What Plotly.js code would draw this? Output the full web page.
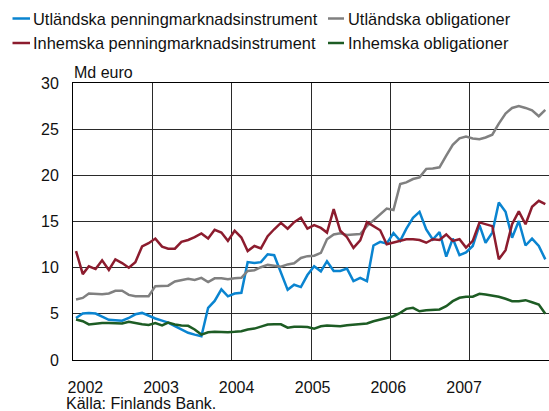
<!DOCTYPE html>
<html>
<head>
<meta charset="utf-8">
<script src="https://cdn.plot.ly/plotly-3.0.1.min.js"></script>
<style>
  html, body { margin: 0; padding: 0; background: #ffffff; }
  #chart { width: 549px; height: 411px; }
</style>
</head>
<body>
<div id="chart"></div>
<script>
// ---- Data (Md euro, monthly 2002-01 .. 2007-12) ----
const years = [2002, 2003, 2004, 2005, 2006, 2007];
const seriesNames = [
  "Utländska penningmarknadsinstrument",
  "Utländska obligationer",
  "Inhemska penningmarknadsinstrument",
  "Inhemska obligationer"
];
const seriesColors = ["#0a84d0", "#808080", "#8c1c2e", "#1d5c24"];

const utlPenning = [
  4.55, 5.03, 5.1, 5.03, 4.7, 4.35, 4.3, 4.25, 4.55, 4.95, 5.1, 4.8,
  4.5, 4.27, 4.05, 3.66, 3.3, 2.95, 2.75, 2.57, 5.65, 6.4, 7.65, 6.9,
  7.2, 7.28, 10.6, 10.5, 10.6, 11.45, 11.35, 9.4, 7.6, 8.15, 7.9, 9.2,
  10.15, 9.6, 10.7, 9.64, 9.64, 9.9, 8.55, 8.9, 8.55, 12.4, 12.8, 12.6,
  13.75, 12.9, 14.2, 15.4, 16.05, 14.15, 13.05, 13.85, 11.2, 13.15, 11.35, 11.65,
  12.35, 14.6, 12.7, 13.8, 17.05, 16.05, 13.25, 15.05, 12.4, 13.15, 12.35, 10.9
];
const utlObl = [
  6.55, 6.72, 7.2, 7.12, 7.12, 7.2, 7.5, 7.5, 7.05, 6.9, 6.9, 6.9,
  8.0, 8.05, 8.05, 8.5, 8.66, 8.8, 8.66, 8.9, 8.45, 8.85, 8.85, 8.75,
  8.85, 8.9, 9.64, 9.72, 10.05, 10.3, 10.2, 10.1, 10.35, 10.47, 11.05, 11.25,
  11.3, 11.6, 13.08, 13.6, 13.72, 13.55, 13.6, 13.65, 14.5, 15.1, 15.8, 16.4,
  16.25, 19.05, 19.24, 19.6, 19.78, 20.7, 20.74, 20.87, 22.13, 23.3, 24.0, 24.2,
  24.0, 23.9, 24.1, 24.4, 25.6, 26.7, 27.3, 27.5, 27.3, 27.05, 26.4, 27.1
];
const inhPenning = [
  11.8, 9.3, 10.15, 9.85, 10.8, 9.75, 10.9, 10.5, 10.0, 10.6, 12.3, 12.65,
  13.15, 12.28, 12.06, 12.06, 12.8, 13.0, 13.3, 13.7, 13.15, 14.1, 13.8, 12.9,
  14.0, 13.26, 11.8, 12.35, 12.08, 13.4, 14.16, 14.85, 14.22, 14.93, 15.4, 14.23,
  14.6, 14.3, 13.8, 16.34, 14.0, 13.3, 12.15, 12.95, 14.93, 14.45, 14.05, 12.54,
  12.7, 12.9, 13.08, 13.08, 13.0, 12.7, 13.08, 13.0, 13.6, 12.9, 13.08, 12.17,
  12.9, 14.9, 14.7, 14.5, 10.9, 11.9, 14.7, 16.1, 14.7, 16.6, 17.24, 16.88
];
const inhObl = [
  4.38, 4.2, 3.85, 3.95, 4.0, 4.02, 4.02, 3.95, 4.15, 4.0, 3.88, 3.8,
  4.0, 3.75, 4.05, 3.85, 3.73, 3.7, 3.3, 2.75, 3.0, 3.05, 3.0, 3.0,
  3.05, 3.12, 3.3, 3.4, 3.62, 3.84, 3.86, 3.86, 3.5, 3.6, 3.6, 3.58,
  3.4, 3.65, 3.73, 3.73, 3.65, 3.77, 3.84, 3.91, 3.95, 4.2, 4.38, 4.5,
  4.74, 5.1, 5.54, 5.65, 5.28, 5.39, 5.39, 5.47, 5.83, 6.37, 6.74, 6.85,
  6.85, 7.17, 7.1, 7.0, 6.85, 6.63, 6.37, 6.37, 6.48, 6.26, 6.0, 5.0
];
const yTicks = [0, 5, 10, 15, 20, 25, 30];
const yTitle = "Md euro";
const sourceText = "Källa: Finlands Bank.";

// ---- Build ----
const months = [];
years.forEach(y => {
  for (let m = 1; m <= 12; m++) months.push(y + "-" + String(m).padStart(2, "0") + "-15");
});
const seriesValues = [utlPenning, utlObl, inhPenning, inhObl];

const FONT = "Arial, 'Liberation Sans', sans-serif";
const TXT = "#111111";

const traces = seriesValues.map((vals, i) => ({
  type: "scatter",
  mode: "lines",
  x: months,
  y: vals,
  name: seriesNames[i],
  line: { color: seriesColors[i], width: 2.5 },
  showlegend: false,
  hoverinfo: "x+y+name"
}));

// year labels sit slightly off the year gridlines in the reference
const tickPos = years.map((y, k) => {
  const d = new Date(Date.UTC(y, 0, 1) + (57 - 16.6 * k) * 86400000);
  return d.toISOString().slice(0, 10);
});

const L = 73, R = 0, T = 83, B = 51, W = 549, H = 411;
const pw = W - L - R, ph = H - T - B;
const px = v => (v - L) / pw;        // pixel x -> paper
const py = v => (H - B - v) / ph;    // pixel y -> paper

// manual legend (2 columns x 2 rows)
const legendPos = [
  { lx0: 12.5, lx1: 30, tx: 31, y: 18.5 },
  { lx0: 328, lx1: 344, tx: 345.5, y: 18.5 },
  { lx0: 12.5, lx1: 30, tx: 31, y: 43 },
  { lx0: 328, lx1: 344, tx: 345.5, y: 43 }
];
const shapes = [];
const annotations = [];
seriesNames.forEach((name, i) => {
  const p = legendPos[i];
  shapes.push({
    type: "line", xref: "paper", yref: "paper",
    x0: px(p.lx0), x1: px(p.lx1), y0: py(p.y), y1: py(p.y),
    line: { color: seriesColors[i], width: 2.5 }
  });
  annotations.push({
    xref: "paper", yref: "paper", x: px(p.tx), y: py(p.y),
    xanchor: "left", yanchor: "middle", showarrow: false,
    text: name, font: { family: FONT, size: 16.4, color: TXT }
  });
});
annotations.push({
  xref: "paper", yref: "paper", x: px(72), y: py(72.5),
  xanchor: "left", yanchor: "middle", showarrow: false,
  text: yTitle, font: { family: FONT, size: 16, color: TXT }
});
annotations.push({
  xref: "paper", yref: "paper", x: px(64), y: py(403.5),
  xanchor: "left", yanchor: "middle", showarrow: false,
  text: sourceText, font: { family: FONT, size: 16, color: TXT }
});

const layout = {
  width: W, height: H,
  margin: { l: L, r: R, t: T, b: B, pad: 0 },
  paper_bgcolor: "#ffffff",
  plot_bgcolor: "#ffffff",
  showlegend: false,
  font: { family: FONT, size: 16, color: TXT },
  xaxis: {
    type: "date",
    range: ["2002-01-01", "2008-01-01"],
    tickmode: "array",
    tickvals: tickPos,
    ticktext: years.map(String),
    ticks: "",
    showgrid: false,
    minor: { tickmode: "linear", tick0: "2002-01-01", dtick: "M12", showgrid: true, gridcolor: "#2a2a2a", gridwidth: 1, ticks: "" },
    showline: true, linecolor: "#000000", linewidth: 1, mirror: true,
    zeroline: false,
    ticklabelstandoff: 13,
    tickfont: { family: FONT, size: 16, color: TXT },
    fixedrange: true
  },
  yaxis: {
    range: [0, 30],
    tickmode: "array",
    tickvals: yTicks,
    ticktext: yTicks.map(String),
    ticks: "",
    showgrid: true, gridcolor: "#2a2a2a", gridwidth: 1,
    showline: true, linecolor: "#000000", linewidth: 1, mirror: false,
    zeroline: false,
    ticklabelstandoff: 10,
    tickfont: { family: FONT, size: 16, color: TXT },
    fixedrange: true
  },
  shapes: shapes,
  annotations: annotations
};

Plotly.newPlot("chart", traces, layout, { staticPlot: true, displayModeBar: false });
</script>
</body>
</html>
